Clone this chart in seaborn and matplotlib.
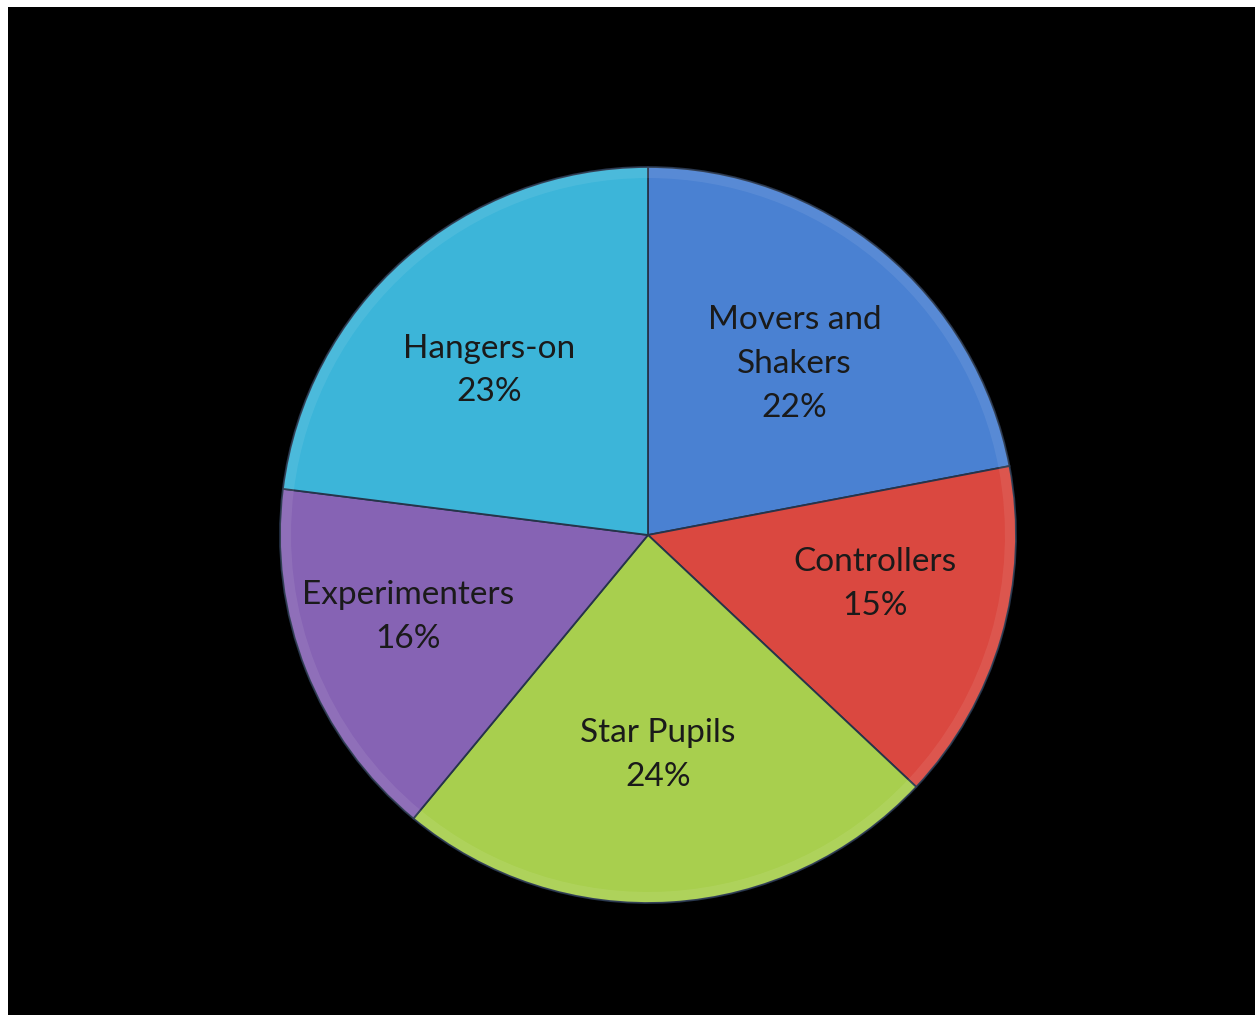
import numpy as np
import matplotlib
matplotlib.use("Agg")
import matplotlib.pyplot as plt
import seaborn as sns
from matplotlib.patches import Wedge

categories = ["Movers and\nShakers", "Controllers", "Star Pupils", "Experimenters", "Hangers-on"]
values = [22, 15, 24, 16, 23]
colors = ["#4a81d2", "#da4840", "#a8cf4e", "#8663b4", "#3cb5d9"]

# label placement (radius fraction, angle tweak in degrees)
label_dist = [0.612, 0.630, 0.598, 0.690, 0.622]
label_dang = [-1.0, 4.0, -1.0, -2.8, 2.6]

sns.set_theme(style="white")
plt.rcParams['font.family'] = ['Lato', 'DejaVu Sans']

fig = plt.figure(figsize=(12.55, 10.15), dpi=100)
fig.patch.set_facecolor("white")
bg = fig.add_axes([8/1255, 0, 1 - 8/1255, 1 - 7/1015])
bg.set_facecolor("black")
bg.set_xticks([]); bg.set_yticks([])
for s in bg.spines.values():
    s.set_visible(False)

cx, cy, r = 648, 535, 368
ax = fig.add_axes([(cx - r)/1255, (1015 - cy - r)/1015, 2*r/1255, 2*r/1015])
ax.set_facecolor("none")
ax.axis("off")

wedges, texts = ax.pie(values, colors=colors, startangle=90, counterclock=False,
                       radius=1.0,
                       wedgeprops=dict(edgecolor="#26344a", linewidth=1.3))
ax.set_xlim(-1, 1); ax.set_ylim(-1, 1)
ax.set_aspect("equal")

# subtle bevel rims
for w in wedges:
    ring = Wedge((0, 0), 1.0, w.theta1, w.theta2, width=0.03,
                 facecolor="white", alpha=0.08, edgecolor="none", zorder=4)
    ax.add_patch(ring)

# labels at angular mid points
cum = 0
for cat, v, d, da in zip(categories, values, label_dist, label_dang):
    mid = 90 - (cum + v / 2) / sum(values) * 360 + da
    cum += v
    x = d * np.cos(np.radians(mid))
    y = d * np.sin(np.radians(mid))
    ax.text(x, y, f"{cat}\n{v}%", ha="center", va="center", fontsize=24,
            color="#1a1a1a", linespacing=1.57, zorder=5)

fig.savefig("out.png", dpi=100, facecolor=fig.get_facecolor())
